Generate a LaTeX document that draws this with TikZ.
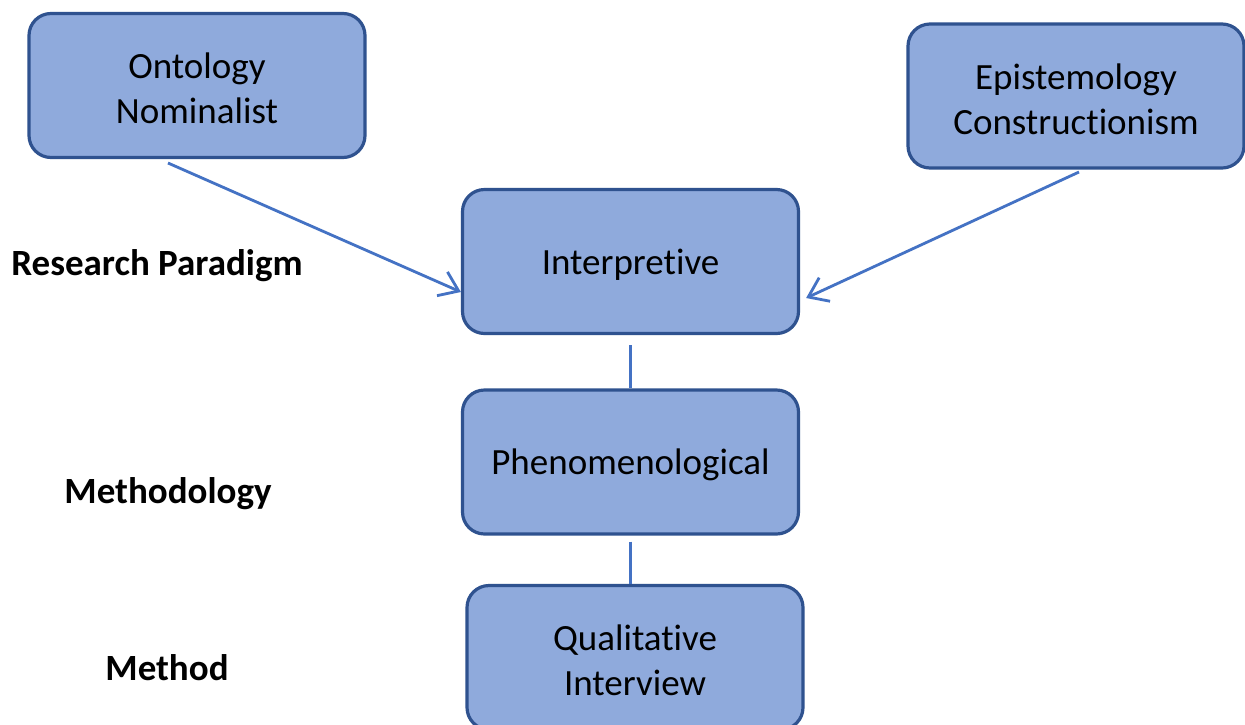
\documentclass[tikz,border=0pt]{standalone}
\usepackage{fontspec}
\setmainfont{Carlito}[RawFeature={-liga;-clig;-calt}]
\usetikzlibrary{arrows.meta,calc}
\definecolor{boxfill}{HTML}{8FAADC}
\definecolor{boxline}{HTML}{2F528F}
\definecolor{arrowc}{HTML}{4472C4}
\tikzset{
  pbox/.style={draw=boxline, fill=boxfill, line width=1.6pt, rounded corners=11pt,
    minimum width=168pt, minimum height=72pt, inner sep=0pt},
  btxt/.style={align=center, inner sep=0pt, yshift=-1.5pt,
    font=\fontsize{18.5pt}{22.5pt}\selectfont},
  lbl/.style={font=\fontsize{18.5pt}{22.5pt}\selectfont\bfseries, inner sep=0pt},
  conn/.style={draw=arrowc, line width=1.4pt},
  arr/.style={conn, -{Straight Barb[length=9pt,width=13pt,line width=1.4pt]}}
}
\begin{document}
\begin{tikzpicture}[x=0.5pt,y=-0.5pt]
\clip (0,0) rectangle (1245,724);
\fill[white] (0,0) rectangle (1245,724);
\node[pbox] (onto) at (197,85.5) {};
\node[btxt] (ontot) at (onto.center) {Ontology\\Nominalist};
\node[pbox] (epis) at (1076,96) {};
\node[btxt] (epist) at (epis.center) {Epistemology\\Constructionism};
\node[pbox] (interp) at (630.5,261.5) {};
\node[btxt] (interpt) at (interp.center) {Interpretive};
\node[pbox] (phen) at (630.5,462) {};
\node[btxt] (phent) at (phen.center) {Phenomenological};
\node[pbox] (qual) at (635,657.5) {};
\node[btxt] (qualt) at (qual.center) {Qualitative\\Interview};
\node[lbl] (rp) at (157,266) {Research Paradigm};
\node[lbl] (meth) at (168,494) {Methodology};
\node[lbl] (mtd) at (167,668) {Method};
\coordinate (a1s) at (168,163);
\coordinate (a1e) at ($(interp.west)+(0,30.5)$);
\coordinate (a2s) at (1079,172);
\coordinate (a2e) at ($(interp.east)+(6,36.5)$);
\draw[arr] (a1s) -- (a1e);
\draw[arr] (a2s) -- (a2e);
\draw[conn, shorten <=5pt] (interp.south) -- (phen.north);
\draw[conn, shorten <=3pt] (phen.south) -- (qual.north -| phen.south);
\end{tikzpicture}
\end{document}
